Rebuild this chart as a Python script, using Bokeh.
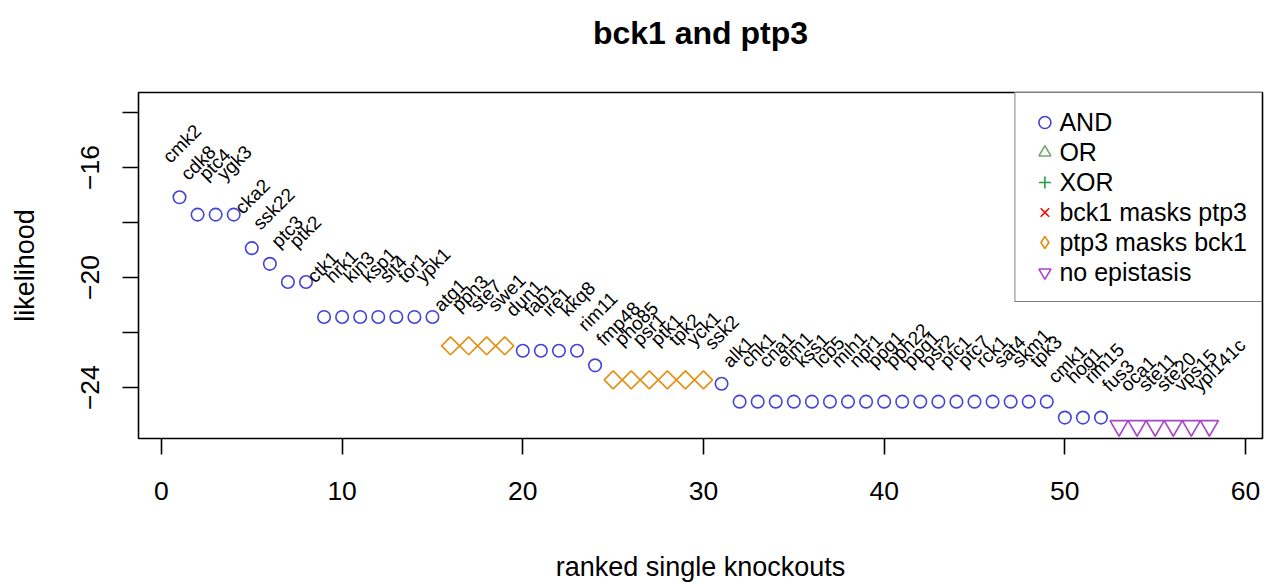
import math
from bokeh.plotting import figure
from bokeh.models import (ColumnDataSource, Range1d, FixedTicker, LabelSet, Title,
                          Legend, LegendItem)
from bokeh.core.properties import value
from bokeh.embed import file_html
from bokeh.resources import INLINE

FONT = "Liberation Sans"

# ---------------- data ----------------
genes = ["cmk2", "cdk8", "ptc4", "ygk3", "cka2", "ssk22", "ptc3", "ptk2",
         "ctk1", "hrk1", "kin3", "ksp1", "sit4", "tor1", "ypk1",
         "atg1", "pph3", "ste7", "swe1",
         "dun1", "fab1", "ire1", "kkq8",
         "rim11",
         "fmp48", "pho85", "psr1", "ptk1", "tpk2", "yck1",
         "ssk2",
         "alk1", "chk1", "cna1", "elm1", "kss1", "lcb5", "mih1", "npr1", "ppg1",
         "pph22", "ppq1", "psr2", "ptc1", "ptc7", "rck1", "sat4", "skm1", "tpk3",
         "cmk1", "hog1", "rim15",
         "fus3", "oca1", "ste11", "ste20", "vps15", "ypl141c"]

likelihood = [-17.08, -17.71, -17.71, -17.71, -18.93, -19.50, -20.16, -20.16,
              -21.43, -21.43, -21.43, -21.43, -21.43, -21.43, -21.43,
              -22.48, -22.48, -22.48, -22.48,
              -22.66, -22.66, -22.66, -22.66,
              -23.19,
              -23.72, -23.72, -23.72, -23.72, -23.72, -23.72,
              -23.86,
              -24.51, -24.51, -24.51, -24.51, -24.51, -24.51, -24.51, -24.51, -24.51,
              -24.51, -24.51, -24.51, -24.51, -24.51, -24.51, -24.51, -24.51, -24.51,
              -25.09, -25.09, -25.09,
              -25.39, -25.39, -25.39, -25.39, -25.39, -25.39]

A, P, N = "AND", "ptp3 masks bck1", "no epistasis"
epistasis = ([A] * 15 + [P] * 4 + [A] * 5 + [P] * 6 + [A] * 22 + [N] * 6)

rank = list(range(1, len(genes) + 1))

categories = ["AND", "OR", "XOR", "bck1 masks ptp3", "ptp3 masks bck1", "no epistasis"]
markers = ["circle", "triangle", "cross", "x", "square", "inverted_triangle"]
legend_markers = ["circle", "triangle", "cross", "x", "diamond", "inverted_triangle"]
colors = ["#4343D6", "#6FA86F", "#1FA043", "#FF0000", "#E38F12", "#A846C8"]
sizes = [12.5, 18, 17, 13, 12.7, 18]
angles = [0, 0, 0, 0, math.pi / 4, 0]

x_ticks = [0, 10, 20, 30, 40, 50, 60]
y_ticks = [-24, -20, -16]
y_minor = [-22, -18, -14]

title_text = "bck1 and ptp3"

# ---------------- figure ----------------
W, H = 1266, 584
BL, BR, BT, BB = 138, 4, 92, 133
p = figure(width=W, height=H, output_backend="svg", toolbar_location=None,
           x_range=Range1d(-1.27, 60.94), y_range=Range1d(-25.85, -13.27),
           min_border_left=BL, min_border_right=BR, min_border_top=BT,
           min_border_bottom=BB)

p.background_fill_color = "white"
p.border_fill_color = "white"
p.outline_line_color = "black"
p.outline_line_width = 1.6
p.xgrid.visible = False
p.ygrid.visible = False

# title: an empty second line lifts the text well above the frame
p.add_layout(Title(text=title_text + "\n\u00a0", text_font=FONT, text_font_size="32px",
                   text_font_style="bold", text_color="black", align="center",
                   standoff=11), "above")

for ax in (p.xaxis[0], p.yaxis[0]):
    ax.axis_line_color = None
    ax.major_tick_in = 0
    ax.major_tick_out = 16
    ax.major_tick_line_width = 1.6
    ax.major_tick_line_color = "black"
    ax.minor_tick_in = 0
    ax.minor_tick_out = 16
    ax.minor_tick_line_width = 1.6
    ax.minor_tick_line_color = "black"
    ax.major_label_text_font = FONT
    ax.major_label_text_font_size = "26.5px"
    ax.major_label_text_color = "black"
    ax.axis_label_text_font = FONT
    ax.axis_label_text_font_size = "27px"
    ax.axis_label_text_font_style = "normal"
    ax.axis_label_text_color = "black"

p.xaxis.ticker = FixedTicker(ticks=x_ticks, minor_ticks=[])
p.yaxis.ticker = FixedTicker(ticks=y_ticks, minor_ticks=y_minor)
p.yaxis.major_label_overrides = {t: "\u2212" + str(abs(t)) for t in y_ticks}
p.yaxis.major_label_orientation = "vertical"
p.xaxis.axis_label = "ranked single knockouts"
p.yaxis.axis_label = "likelihood"
p.xaxis.major_label_standoff = 27
p.yaxis.major_label_standoff = 23
p.xaxis.axis_label_standoff = 49
p.yaxis.axis_label_standoff = 39

# ---------------- marks ----------------
items = []
for cat, mk, lmk, col, sz, ang in zip(categories, markers, legend_markers, colors, sizes, angles):
    idx = [i for i, e in enumerate(epistasis) if e == cat]
    if idx:
        src = ColumnDataSource(dict(rank=[rank[i] for i in idx],
                                    lik=[likelihood[i] for i in idx]))
        p.scatter(x="rank", y="lik", source=src, marker=mk, size=sz, angle=ang,
                  line_color=col, fill_color=None, line_width=1.6)
    # legend key (no visible point in the plot area)
    key = p.scatter(x="rank", y="lik",
                    source=ColumnDataSource(dict(rank=[float("nan")], lik=[float("nan")])),
                    marker=lmk, size=sz, line_color=col, fill_color=None, line_width=1.6)
    items.append(LegendItem(label=cat, renderers=[key]))

lab_src = ColumnDataSource(dict(rank=rank, lik=likelihood, gene=genes))
labels = LabelSet(x="rank", y="lik", text="gene", source=lab_src,
                  angle=45, angle_units="deg", x_offset=-9, y_offset=33,
                  text_align="left", text_baseline="alphabetic",
                  text_font=value(FONT), text_font_size="19px",
                  text_color="black")
p.add_layout(labels)

legend = Legend(items=items, location="top_right", margin=0, padding=14,
                spacing=0, glyph_width=30, glyph_height=30, label_height=30,
                label_standoff=0, label_text_font=FONT,
                label_text_font_size="25px", label_text_baseline="middle",
                label_text_color="black",
                border_line_color="black", border_line_width=1.6,
                background_fill_color="white", background_fill_alpha=1.0)
p.add_layout(legend)

open("out.html", "w").write(file_html(p, INLINE))
